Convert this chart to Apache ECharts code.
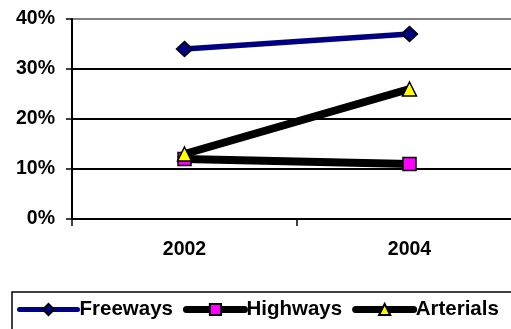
<!DOCTYPE html>
<html>
<head>
<meta charset="utf-8">
<script src="https://cdn.jsdelivr.net/npm/echarts@6/dist/echarts.min.js"></script>
<style>
  html, body { margin: 0; padding: 0; background: #fff; }
  #chart { width: 511px; height: 329px; }
</style>
</head>
<body>
<div id="chart"></div>
<script>
// Share of traffic by roadway class, 2002 vs 2004
const years = ['2002', '2004'];
const freeways = [34, 37];
const highways = [12, 11];
const arterials = [13, 26];
const yTicks = [0, 10, 20, 30, 40];

const font = 'Liberation Sans, Arial, sans-serif';
const chart = echarts.init(document.getElementById('chart'));

chart.setOption({
  animation: false,
  backgroundColor: '#ffffff',
  // plot area runs past the right edge of the canvas
  grid: { left: 72, width: 450, top: 19, height: 200, containLabel: false, outerBoundsMode: 'none' },
  xAxis: {
    type: 'category',
    data: years,
    boundaryGap: true,
    axisLine: { lineStyle: { color: '#000', width: 2 } },
    axisTick: { show: true, length: 7, lineStyle: { color: '#000', width: 1.5 } },
    axisLabel: { color: '#000', fontFamily: font, fontWeight: 'bold', fontSize: 19.5, margin: 21 },
    splitLine: { show: false }
  },
  yAxis: {
    type: 'value',
    min: yTicks[0],
    max: yTicks[yTicks.length - 1],
    interval: 10,
    axisLine: { show: true, lineStyle: { color: '#000', width: 2 } },
    axisTick: { show: true, length: 6, lineStyle: { color: '#000', width: 1.5 } },
    axisLabel: {
      color: '#000', fontFamily: font, fontWeight: 'bold', fontSize: 19.5, margin: 17,
      formatter: v => v + '%'
    },
    splitLine: {
      show: true,
      lineStyle: {
        width: 1.8,
        color: ['#000', '#000', '#000', '#000', '#808080']
      }
    }
  },
  legend: {
    left: 17,
    top: 299,
    width: 600,
    padding: 0,
    itemWidth: 58,
    itemHeight: 14,
    itemGap: 10,
    textStyle: { color: '#000', fontFamily: font, fontWeight: 'bold', fontSize: 20.5, padding: [0, 0, 0, -3] },
    data: [
      { name: 'Freeways', lineStyle: { width: 5, cap: 'round' } },
      { name: 'Highways', lineStyle: { width: 7, cap: 'round' } },
      { name: 'Arterials', lineStyle: { width: 7, cap: 'round' } }
    ]
  },
  graphic: [{
    type: 'rect',
    shape: { x: 12, y: 292, width: 520, height: 60 },
    style: { fill: 'none', stroke: '#000', lineWidth: 1.5 },
    z: -1,
    silent: true
  }],
  series: [
    {
      name: 'Freeways',
      type: 'line',
      data: freeways,
      symbol: 'diamond',
      symbolSize: [16, 15],
      lineStyle: { color: '#000080', width: 5.5 },
      itemStyle: { color: '#000080', borderColor: '#000', borderWidth: 1.5 },
      z: 3
    },
    {
      name: 'Highways',
      type: 'line',
      data: highways,
      symbol: 'rect',
      symbolSize: 13,
      lineStyle: { color: '#000', width: 8 },
      itemStyle: { color: '#ff00ff', borderColor: '#000', borderWidth: 1.5 },
      z: 2
    },
    {
      name: 'Arterials',
      type: 'line',
      data: arterials,
      symbol: 'triangle',
      symbolSize: 14,
      lineStyle: { color: '#000', width: 8 },
      itemStyle: { color: '#ffff00', borderColor: '#000', borderWidth: 1.5 },
      z: 4
    }
  ]
});
</script>
</body>
</html>
